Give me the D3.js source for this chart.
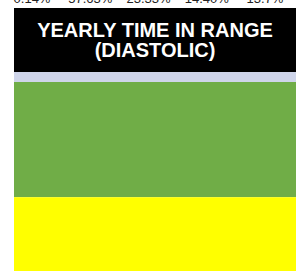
<!DOCTYPE html>
<html>
<head>
<meta charset="utf-8">
<script src="https://cdn.jsdelivr.net/npm/d3@7"></script>
<style>
  html, body { margin: 0; padding: 0; background: #fff; overflow: hidden; }
</style>
</head>
<body>
<div id="chart"></div>
<script>
// values
const topLabels = ['0.14%', '57.63%', '23.33%', '14.40%', '13.7%'];
const titleLines = ['YEARLY TIME IN RANGE', '(DIASTOLIC)'];
const segmentNames = ['header', 'high', 'normal', 'low'];
const segmentValues = [5, 57.6, 37.4];
const segmentColors = ['#cfd5ea', '#70ad47', '#ffff00'];

const width = 296, height = 271;
const margin = { top: 8, left: 14, right: 0 };
const headerH = 64;

const svg = d3.select('#chart').append('svg')
  .attr('width', width)
  .attr('height', height);

// labels row, clipped by the top edge
const xLabel = d3.scalePoint()
  .domain(topLabels)
  .range([32, 265]);

svg.append('g')
  .attr('font-family', 'Liberation Sans, Arial, sans-serif')
  .attr('font-size', 13)
  .attr('fill', '#222')
  .selectAll('text')
  .data(topLabels)
  .enter().append('text')
  .attr('x', d => xLabel(d))
  .attr('y', 3)
  .attr('text-anchor', 'middle')
  .text(d => d);

// title block
svg.append('rect')
  .attr('x', margin.left)
  .attr('y', margin.top)
  .attr('width', width - margin.left - margin.right)
  .attr('height', headerH)
  .attr('fill', '#000');

svg.append('g')
  .attr('font-family', 'Liberation Sans, Arial, sans-serif')
  .attr('font-weight', 'bold')
  .attr('font-size', 20)
  .attr('fill', '#fff')
  .attr('text-anchor', 'middle')
  .selectAll('text')
  .data(titleLines)
  .enter().append('text')
  .attr('x', (margin.left + width) / 2)
  .attr('y', (d, i) => 37 + i * 20)
  .text(d => d);

// stacked bar
const stack = [];
let acc = 0;
segmentValues.forEach((v, i) => {
  stack.push({ y0: acc, y1: acc + v, color: segmentColors[i] });
  acc += v;
});

const barTop = margin.top + headerH;
const y = d3.scaleLinear()
  .domain([0, 100])
  .range([barTop, barTop + 200]);

svg.append('g')
  .selectAll('rect')
  .data(stack)
  .enter().append('rect')
  .attr('x', margin.left)
  .attr('width', width - margin.left - margin.right)
  .attr('y', d => y(d.y0))
  .attr('height', d => y(d.y1) - y(d.y0))
  .attr('fill', d => d.color);
</script>
</body>
</html>
